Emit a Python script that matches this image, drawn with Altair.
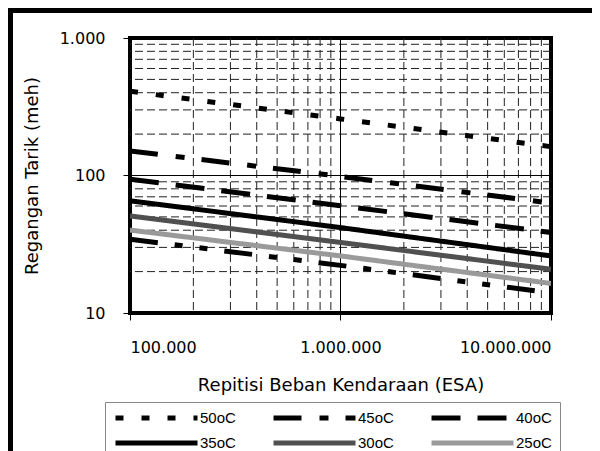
import altair as alt
import pandas as pd

# ---- data ----
x_esa = [100000, 1000000, 10000000]
series_names = ["50oC", "45oC", "40oC", "35oC", "30oC", "25oC", "20oC"]
s50 = [410, 258, 162]
s45 = [151, 98.5, 63]
s40 = [94, 60.3, 38.5]
s35 = [65.5, 41.8, 26]
s30 = [50.8, 32.6, 20.8]
s25 = [40.1, 26.0, 16.4]
s20 = [34.4, 22.2, 14.0]
all_series = [s50, s45, s40, s35, s30, s25, s20]

x_ticks = [100000, 1000000, 10000000]
y_ticks = [10, 100, 1000]
x_minor = [200000, 300000, 400000, 500000, 600000, 700000, 800000, 900000,
           2000000, 3000000, 4000000, 5000000, 6000000, 7000000, 8000000, 9000000]
y_minor = [20, 30, 40, 50, 60, 70, 80, 90, 200, 300, 400, 500, 600, 700, 800, 900]
x_major = [1000000]
y_major = [100]

colors = ["black", "black", "black", "black", "#505050", "#9a9a9a", "black"]
dashes = [[8, 18], [28, 18, 9, 17], [29, 17], [1, 0], [1, 0], [1, 0],
          [28, 17, 8, 17, 8, 17]]

rows = []
for name, vals in zip(series_names, all_series):
    for x, v in zip(x_esa, vals):
        rows.append({"series": name, "esa": x, "strain": v})
df = pd.DataFrame(rows)

W, H = 421, 275
PL, PT, PR, PB = 122, 30, 41, 138

fmt = "replace(replace(replace(format(datum.value, ',d'), ',', '.'), ',', '.'), ',', '.')"

xscale = alt.Scale(type="log", domain=[100000, 10000000], nice=False)
yscale = alt.Scale(type="log", domain=[10, 1000], nice=False)

xaxis = alt.Axis(values=x_ticks, labelExpr=fmt, grid=False, domain=False,
                 tickSize=7, tickColor="black", labelPadding=19,
                 labelFont="DejaVu Sans", labelFontSize=16, labelColor="black",
                 title="Repitisi Beban Kendaraan (ESA)", titleFont="DejaVu Sans",
                 titleFontSize=18, titleFontWeight="normal", titleColor="black",
                 titlePadding=21)
yaxis = alt.Axis(values=y_ticks, labelExpr=fmt, grid=False, domain=False,
                 tickSize=7, tickColor="black", labelPadding=18,
                 labelFont="DejaVu Sans", labelFontSize=16, labelColor="black",
                 title="Regangan Tarik (meh)", titleFont="DejaVu Sans",
                 titleFontSize=18, titleFontWeight="normal", titleColor="black",
                 titlePadding=18)

xminor_df = pd.DataFrame({"esa": x_minor})
yminor_df = pd.DataFrame({"strain": y_minor})
xmajor_df = pd.DataFrame({"esa": x_major})
ymajor_df = pd.DataFrame({"strain": y_major})

grid_x = alt.Chart(xminor_df).mark_rule(color="#222", strokeWidth=1, strokeDash=[8, 4]).encode(
    x=alt.X("esa:Q", scale=xscale, axis=xaxis))
grid_y = alt.Chart(yminor_df).mark_rule(color="#222", strokeWidth=1, strokeDash=[8, 4]).encode(
    y=alt.Y("strain:Q", scale=yscale, axis=yaxis))
maj_x = alt.Chart(xmajor_df).mark_rule(color="black", strokeWidth=1).encode(
    x=alt.X("esa:Q", scale=xscale, axis=xaxis))
maj_y = alt.Chart(ymajor_df).mark_rule(color="black", strokeWidth=1).encode(
    y=alt.Y("strain:Q", scale=yscale, axis=yaxis))

lines = alt.Chart(df).mark_line(strokeWidth=5, clip=True).encode(
    x=alt.X("esa:Q", scale=xscale, axis=xaxis),
    y=alt.Y("strain:Q", scale=yscale, axis=yaxis),
    color=alt.Color("series:N", scale=alt.Scale(domain=series_names, range=colors),
                    legend=alt.Legend(title=None)),
    strokeDash=alt.StrokeDash("series:N", scale=alt.Scale(domain=series_names, range=dashes),
                              legend=alt.Legend(title=None)),
    detail="series:N",
)

frame = alt.Chart(pd.DataFrame({"a": [0]})).mark_rect(filled=False, stroke="black", strokeWidth=5).encode(
    x=alt.value(-PL + 2.5), x2=alt.value(W + PR + 20),
    y=alt.value(-PT + 2.5), y2=alt.value(H + PB + 20))

chart = alt.layer(grid_x, grid_y, maj_x, maj_y, lines, frame).properties(
    width=W, height=H,
    autosize=alt.AutoSizeParams(type="none"),
    padding={"left": PL, "top": PT, "right": PR, "bottom": PB},
).configure_view(
    stroke="black", strokeWidth=4
).configure_legend(
    orient="none", legendX=-25, legendY=364, columns=3, direction="horizontal",
    strokeColor="#888", fillColor="white", padding=8,
    symbolType="stroke", symbolSize=6724, symbolStrokeWidth=5,
    clipHeight=16,
    labelFont="Liberation Sans", labelFontSize=15, labelColor="black",
    labelOffset=0, columnPadding=35, rowPadding=9,
)

chart.save("out.html", embed_options={"renderer": "svg", "actions": False})
